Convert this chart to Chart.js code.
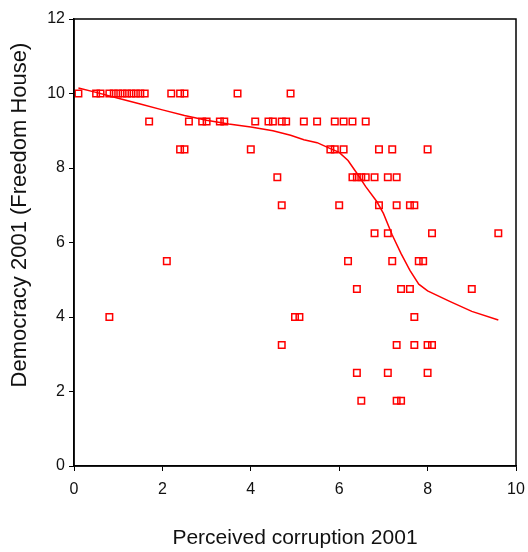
<!DOCTYPE html>
<html>
<head>
<meta charset="utf-8">
<script src="https://cdn.jsdelivr.net/npm/chart.js@4"></script>
<style>
  html, body { margin: 0; padding: 0; background: #fff; }
  #wrap { width: 528px; height: 552px; }
</style>
</head>
<body>
<div id="wrap"><canvas id="scatterChart" width="528" height="552"></canvas></div>
<script>
// ---------------- Data ----------------

// Perceived corruption 2001 (x) for each country, grouped by democracy level (y)
const corruptionX = [
  // y = 10
  0.1, 0.5, 0.6, 0.8, 0.9, 1.0, 1.1, 1.2, 1.3, 1.4, 1.5, 1.6, 2.2, 2.4, 2.5, 3.7, 4.9,
  // y = 9.25
  1.7, 2.6, 2.9, 3.0, 3.3, 3.4, 4.1, 4.4, 4.5, 4.7, 4.8, 5.2, 5.5, 5.9, 6.1, 6.3, 6.6,
  // y = 8.5
  2.4, 2.5, 4.0, 5.8, 5.9, 6.1, 6.9, 7.2, 8.0,
  // y = 7.75
  4.6, 6.3, 6.4, 6.5, 6.6, 6.8, 7.1, 7.3,
  // y = 7
  4.7, 6.0, 6.9, 7.3, 7.6, 7.7,
  // y = 6.25
  6.8, 7.1, 8.1, 9.6,
  // y = 5.5
  2.1, 6.2, 7.2, 7.8, 7.9,
  // y = 4.75
  6.4, 7.4, 7.6, 9.0,
  // y = 4
  0.8, 5.0, 5.1, 7.7,
  // y = 3.25
  4.7, 7.3, 7.7, 8.0, 8.1,
  // y = 2.5
  6.4, 7.1, 8.0,
  // y = 1.75
  6.5, 7.3, 7.4
];

const democracyY = [
  10, 10, 10, 10, 10, 10, 10, 10, 10, 10, 10, 10, 10, 10, 10, 10, 10,
  9.25, 9.25, 9.25, 9.25, 9.25, 9.25, 9.25, 9.25, 9.25, 9.25, 9.25, 9.25, 9.25, 9.25, 9.25, 9.25, 9.25,
  8.5, 8.5, 8.5, 8.5, 8.5, 8.5, 8.5, 8.5, 8.5,
  7.75, 7.75, 7.75, 7.75, 7.75, 7.75, 7.75, 7.75,
  7, 7, 7, 7, 7, 7,
  6.25, 6.25, 6.25, 6.25,
  5.5, 5.5, 5.5, 5.5, 5.5,
  4.75, 4.75, 4.75, 4.75,
  4, 4, 4, 4,
  3.25, 3.25, 3.25, 3.25, 3.25,
  2.5, 2.5, 2.5,
  1.75, 1.75, 1.75
];

// Smoothed (lowess) fit line
const fitX = [0.1, 0.5, 1.0, 1.5, 2.0, 2.5, 3.0, 3.5, 4.0, 4.5, 4.9, 5.2, 5.5, 5.8, 6.0, 6.2, 6.4, 6.6, 6.85, 7.0, 7.2, 7.4, 7.6, 7.8, 8.0, 8.5, 9.0, 9.6];
const fitY = [10.15, 10.03, 9.87, 9.72, 9.56, 9.41, 9.28, 9.18, 9.1, 9.0, 8.88, 8.76, 8.68, 8.52, 8.42, 8.2, 7.86, 7.5, 7.1, 6.78, 6.2, 5.7, 5.25, 4.88, 4.7, 4.42, 4.15, 3.92];

const xTicks = [0, 2, 4, 6, 8, 10];
const yTicks = [0, 2, 4, 6, 8, 10, 12];

const xTitle = "Perceived corruption 2001";
const yTitle = "Democracy 2001 (Freedom House)";

// ---------------- Chart.js Setup ----------------
const RED = "#ff0000";
const FONT = "'Liberation Sans', Arial, sans-serif";

const scatterPoints = corruptionX.map((x, i) => ({ x: x, y: democracyY[i] }));
const fitPoints = fitX.map((x, i) => ({ x: x, y: fitY[i] }));

// full box round the plot area + the y title (sits a bit above centre in the original)
const frameBox = {
  id: "frameBox",
  afterDraw(chart) {
    const a = chart.chartArea;
    const ctx = chart.ctx;
    ctx.save();
    ctx.strokeStyle = "#000";
    ctx.lineWidth = 1.5;
    ctx.strokeRect(a.left, a.top, a.right - a.left, a.bottom - a.top);

    ctx.translate(20, 215);
    ctx.rotate(-Math.PI / 2);
    ctx.fillStyle = "#111";
    ctx.font = "22px " + FONT;
    ctx.textAlign = "center";
    ctx.textBaseline = "middle";
    ctx.fillText(yTitle, 0, 0);
    ctx.restore();
  },
};

const ctx = document.getElementById("scatterChart").getContext("2d");
new Chart(ctx, {
  type: "scatter",
  data: {
    datasets: [
      {
        label: "Countries",
        data: scatterPoints,
        pointStyle: "rect",
        pointRadius: 4.6,
        pointBorderWidth: 1.5,
        borderColor: RED,
        backgroundColor: "rgba(255,255,255,0)",
      },
      {
        label: "Lowess",
        type: "line",
        data: fitPoints,
        borderColor: RED,
        borderWidth: 1.5,
        pointRadius: 0,
        tension: 0,
        fill: false,
      },
    ],
  },
  options: {
    responsive: false,
    animation: false,
    layout: { padding: { left: 0, right: 12, top: 19, bottom: 0 } },
    plugins: {
      legend: { display: false },
      tooltip: { enabled: false },
    },
    scales: {
      x: {
        type: "linear",
        min: 0,
        max: 10,
        afterBuildTicks: (scale) => { scale.ticks = xTicks.map((v) => ({ value: v })); },
        afterFit: (scale) => {
          scale.height = 86;
          scale.paddingLeft = 0;
          scale.paddingRight = 0;
        },
        border: { display: true, color: "#000", width: 1.5 },
        grid: { drawOnChartArea: false, drawTicks: true, tickLength: 5, color: "#000" },
        ticks: { color: "#111", font: { family: FONT, size: 16 }, padding: 9, maxRotation: 0 },
        title: {
          display: true,
          text: xTitle,
          color: "#111",
          font: { family: FONT, size: 21 },
          padding: { top: 0, bottom: 1 },
        },
      },
      y: {
        type: "linear",
        min: 0,
        max: 12,
        afterBuildTicks: (scale) => { scale.ticks = yTicks.map((v) => ({ value: v })); },
        afterFit: (scale) => {
          scale.width = 74;
          scale.paddingTop = 0;
          scale.paddingBottom = 0;
        },
        border: { display: true, color: "#000", width: 1.5 },
        grid: { drawOnChartArea: false, drawTicks: true, tickLength: 5, color: "#000" },
        ticks: { color: "#111", font: { family: FONT, size: 16 }, padding: 4 },
        title: { display: false },
      },
    },
  },
  plugins: [frameBox],
});
</script>
</body>
</html>
